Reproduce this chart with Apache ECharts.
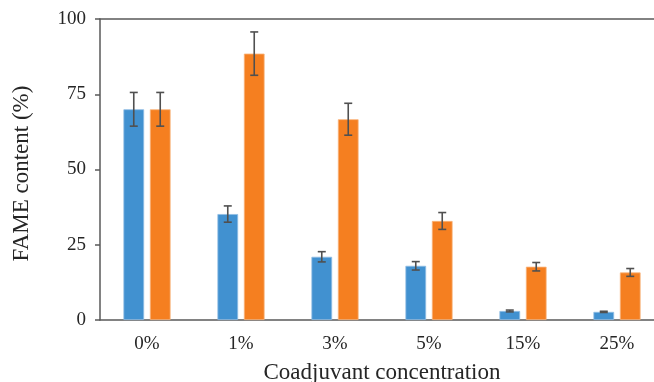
<!DOCTYPE html>
<html>
<head>
<meta charset="utf-8">
<script src="https://cdn.jsdelivr.net/npm/echarts@6/dist/echarts.min.js"></script>
<style>
  html, body { margin: 0; padding: 0; background: #fff; }
  #chart { width: 654px; height: 382px; }
</style>
</head>
<body>
<div id="chart"></div>
<script>
const categories = ['0%', '1%', '3%', '5%', '15%', '25%']
const blueValues = [70, 35.2, 21, 18, 3, 2.7]
const blueErrors = [5.6, 2.7, 1.7, 1.4, 0.3, 0.2]
const orangeValues = [70, 88.5, 66.7, 32.9, 17.7, 15.8]
const orangeErrors = [5.6, 7.2, 5.3, 2.8, 1.4, 1.3]
const yTicks = [0, 25, 50, 75, 100]

const fontFamily = '"Liberation Serif", "Times New Roman", serif'
const axisColor = '#595959'
const textColor = '#262626'
const barWidthRatio = 0.22
const barGapRatio = 0.28

// 误差线：按分组内柱子的偏移画
const errorSeries = (values, errors, side) => ({
  type: 'custom',
  z: 10,
  silent: true,
  data: values.map((v, i) => [i, v, errors[i]]),
  renderItem: (params, api) => {
    const band = api.size([1, 0])[0]
    const offset = side * band * (barWidthRatio + barWidthRatio * barGapRatio) / 2
    const center = api.coord([api.value(0), api.value(1)])
    const x = center[0] + offset
    const yHi = api.coord([api.value(0), api.value(1) + api.value(2)])[1]
    const yLo = api.coord([api.value(0), api.value(1) - api.value(2)])[1]
    const cap = 4
    const style = { stroke: '#505050', lineWidth: 1.6 }
    return {
      type: 'group',
      children: [
        { type: 'line', shape: { x1: x, y1: yHi, x2: x, y2: yLo }, style },
        { type: 'line', shape: { x1: x - cap, y1: yHi, x2: x + cap, y2: yHi }, style },
        { type: 'line', shape: { x1: x - cap, y1: yLo, x2: x + cap, y2: yLo }, style }
      ]
    }
  }
})

const chart = echarts.init(document.getElementById('chart'))
chart.setOption({
  animation: false,
  grid: { left: 100, width: 564, top: 19, bottom: 62, outerBoundsMode: 'none', containLabel: false },
  xAxis: [
    {
      type: 'category',
      data: categories,
      name: 'Coadjuvant concentration',
      nameLocation: 'middle',
      nameGap: 41,
      nameTextStyle: { fontFamily, fontSize: 23, color: textColor },
      axisLine: { lineStyle: { color: axisColor, width: 1.5 } },
      axisTick: { length: 6, lineStyle: { color: axisColor, width: 1.5 } },
      axisLabel: { fontFamily, fontSize: 19, color: textColor, margin: 15 }
    },
    {
      type: 'category',
      data: categories,
      position: 'top',
      axisLine: { lineStyle: { color: axisColor, width: 1.5 } },
      axisTick: { show: false },
      axisLabel: { show: false }
    }
  ],
  yAxis: {
    type: 'value',
    min: yTicks[0],
    max: yTicks[yTicks.length - 1],
    interval: 25,
    name: 'FAME content (%)',
    nameLocation: 'middle',
    nameGap: 67,
    nameTextStyle: { fontFamily, fontSize: 23, color: textColor, padding: [0, 0, 0, -8] },
    axisLine: { show: true, lineStyle: { color: axisColor, width: 1.5 } },
    axisTick: { show: true, length: 5, lineStyle: { color: axisColor, width: 1.5 } },
    axisLabel: { fontFamily, fontSize: 19, color: textColor, margin: 14 },
    splitLine: { show: false }
  },
  series: [
    {
      type: 'bar',
      data: blueValues,
      barWidth: (barWidthRatio * 100) + '%',
      barGap: (barGapRatio * 100) + '%',
      itemStyle: { color: '#4191D0', borderColor: '#8fbde3', borderWidth: 0.8 }
    },
    {
      type: 'bar',
      data: orangeValues,
      barWidth: (barWidthRatio * 100) + '%',
      barGap: (barGapRatio * 100) + '%',
      itemStyle: { color: '#F57F20', borderColor: '#f9b47c', borderWidth: 0.8 }
    },
    errorSeries(blueValues, blueErrors, -1),
    errorSeries(orangeValues, orangeErrors, 1)
  ]
})
</script>
</body>
</html>
